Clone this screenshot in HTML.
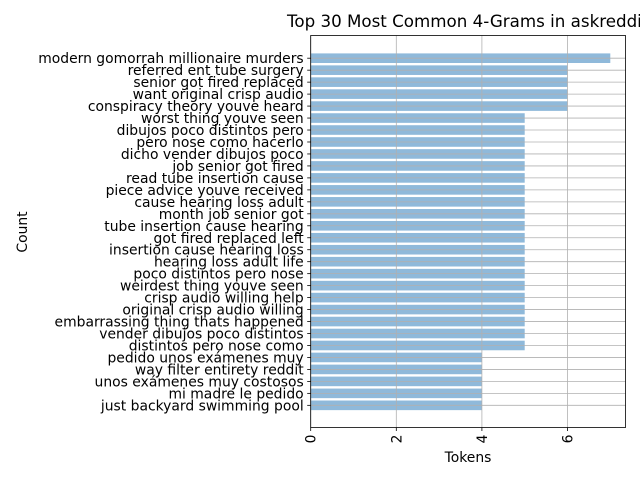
<!DOCTYPE html>
<html><head><meta charset="utf-8"><style>
body{margin:0;background:#fff;}
svg{display:block;font-family:"DejaVu Sans","Liberation Sans",sans-serif;}
</style></head><body>
<svg id="chart" width="640" height="480">
<rect width="640" height="480" fill="#fff"/>
<text x="287" y="27" font-size="16.7" fill="#000">Top 30 Most Common 4-Grams in askreddit</text>
<g id="plot"></g>
<text x="468" y="462" font-size="13.9" text-anchor="middle">Tokens</text>
<text transform="translate(27,232) rotate(-90)" font-size="13.9" text-anchor="middle">Count</text>
</svg>
<script>
const categories=["modern gomorrah millionaire murders","referred ent tube surgery","senior got fired replaced","want original crisp audio","conspiracy theory youve heard","worst thing youve seen","dibujos poco distintos pero","pero nose como hacerlo","dicho vender dibujos poco","job senior got fired","read tube insertion cause","piece advice youve received","cause hearing loss adult","month job senior got","tube insertion cause hearing","got fired replaced left","insertion cause hearing loss","hearing loss adult life","poco distintos pero nose","weirdest thing youve seen","crisp audio willing help","original crisp audio willing","embarrassing thing thats happened","vender dibujos poco distintos","distintos pero nose como","pedido unos exámenes muy","way filter entirety reddit","unos exámenes muy costosos","mi madre le pedido","just backyard swimming pool"];
const values=[7,6,6,6,6,5,5,5,5,5,5,5,5,5,5,5,5,5,5,5,5,5,5,5,5,4,4,4,4,4];
const xTicks=[0,2,4,6];
const NS="http://www.w3.org/2000/svg";
const L=310.7,R=625.5,T=35.5,B=427.5;
const xs=v=>L+v*42.8;
const ys=i=>58.2+i*11.97;
const g=document.getElementById('plot');
function mk(t,a){const e=document.createElementNS(NS,t);for(const k in a)e.setAttribute(k,a[k]);g.appendChild(e);return e;}
categories.forEach((c,i)=>{
 const b=mk('rect',{x:L,y:ys(i)-4.8,width:xs(values[i])-L,height:9.6,fill:'#8fb9da'});
 
 
});
xTicks.forEach(t=>{
 const l=mk('line',{x1:xs(t),x2:xs(t),y1:T,y2:B,stroke:'#b0b0b0','stroke-width':0.8});
 
 
 mk('line',{x1:xs(t),x2:xs(t),y1:B,y2:B+3.5,stroke:'#000','stroke-width':0.8});
 const tx=mk('text',{transform:`translate(${xs(t)+5},${B+7}) rotate(-90)`,'font-size':13.9,'text-anchor':'end'});
 tx.textContent=t;
 
 
});
categories.forEach((c,i)=>{
 const l=mk('line',{x1:L,x2:R,y1:ys(i),y2:ys(i),stroke:'#b0b0b0','stroke-width':0.8});
 
 
 mk('line',{x1:L-3.5,x2:L,y1:ys(i),y2:ys(i),stroke:'#000','stroke-width':0.8});
 const tx=mk('text',{x:L-7,y:ys(i)+5,'font-size':13.9,'text-anchor':'end'});
 tx.textContent=c;
 
 
});
const f=mk('rect',{x:L,y:T,width:R-L,height:B-T,fill:'none',stroke:'#000','stroke-width':0.8});


</script>
</body></html>
